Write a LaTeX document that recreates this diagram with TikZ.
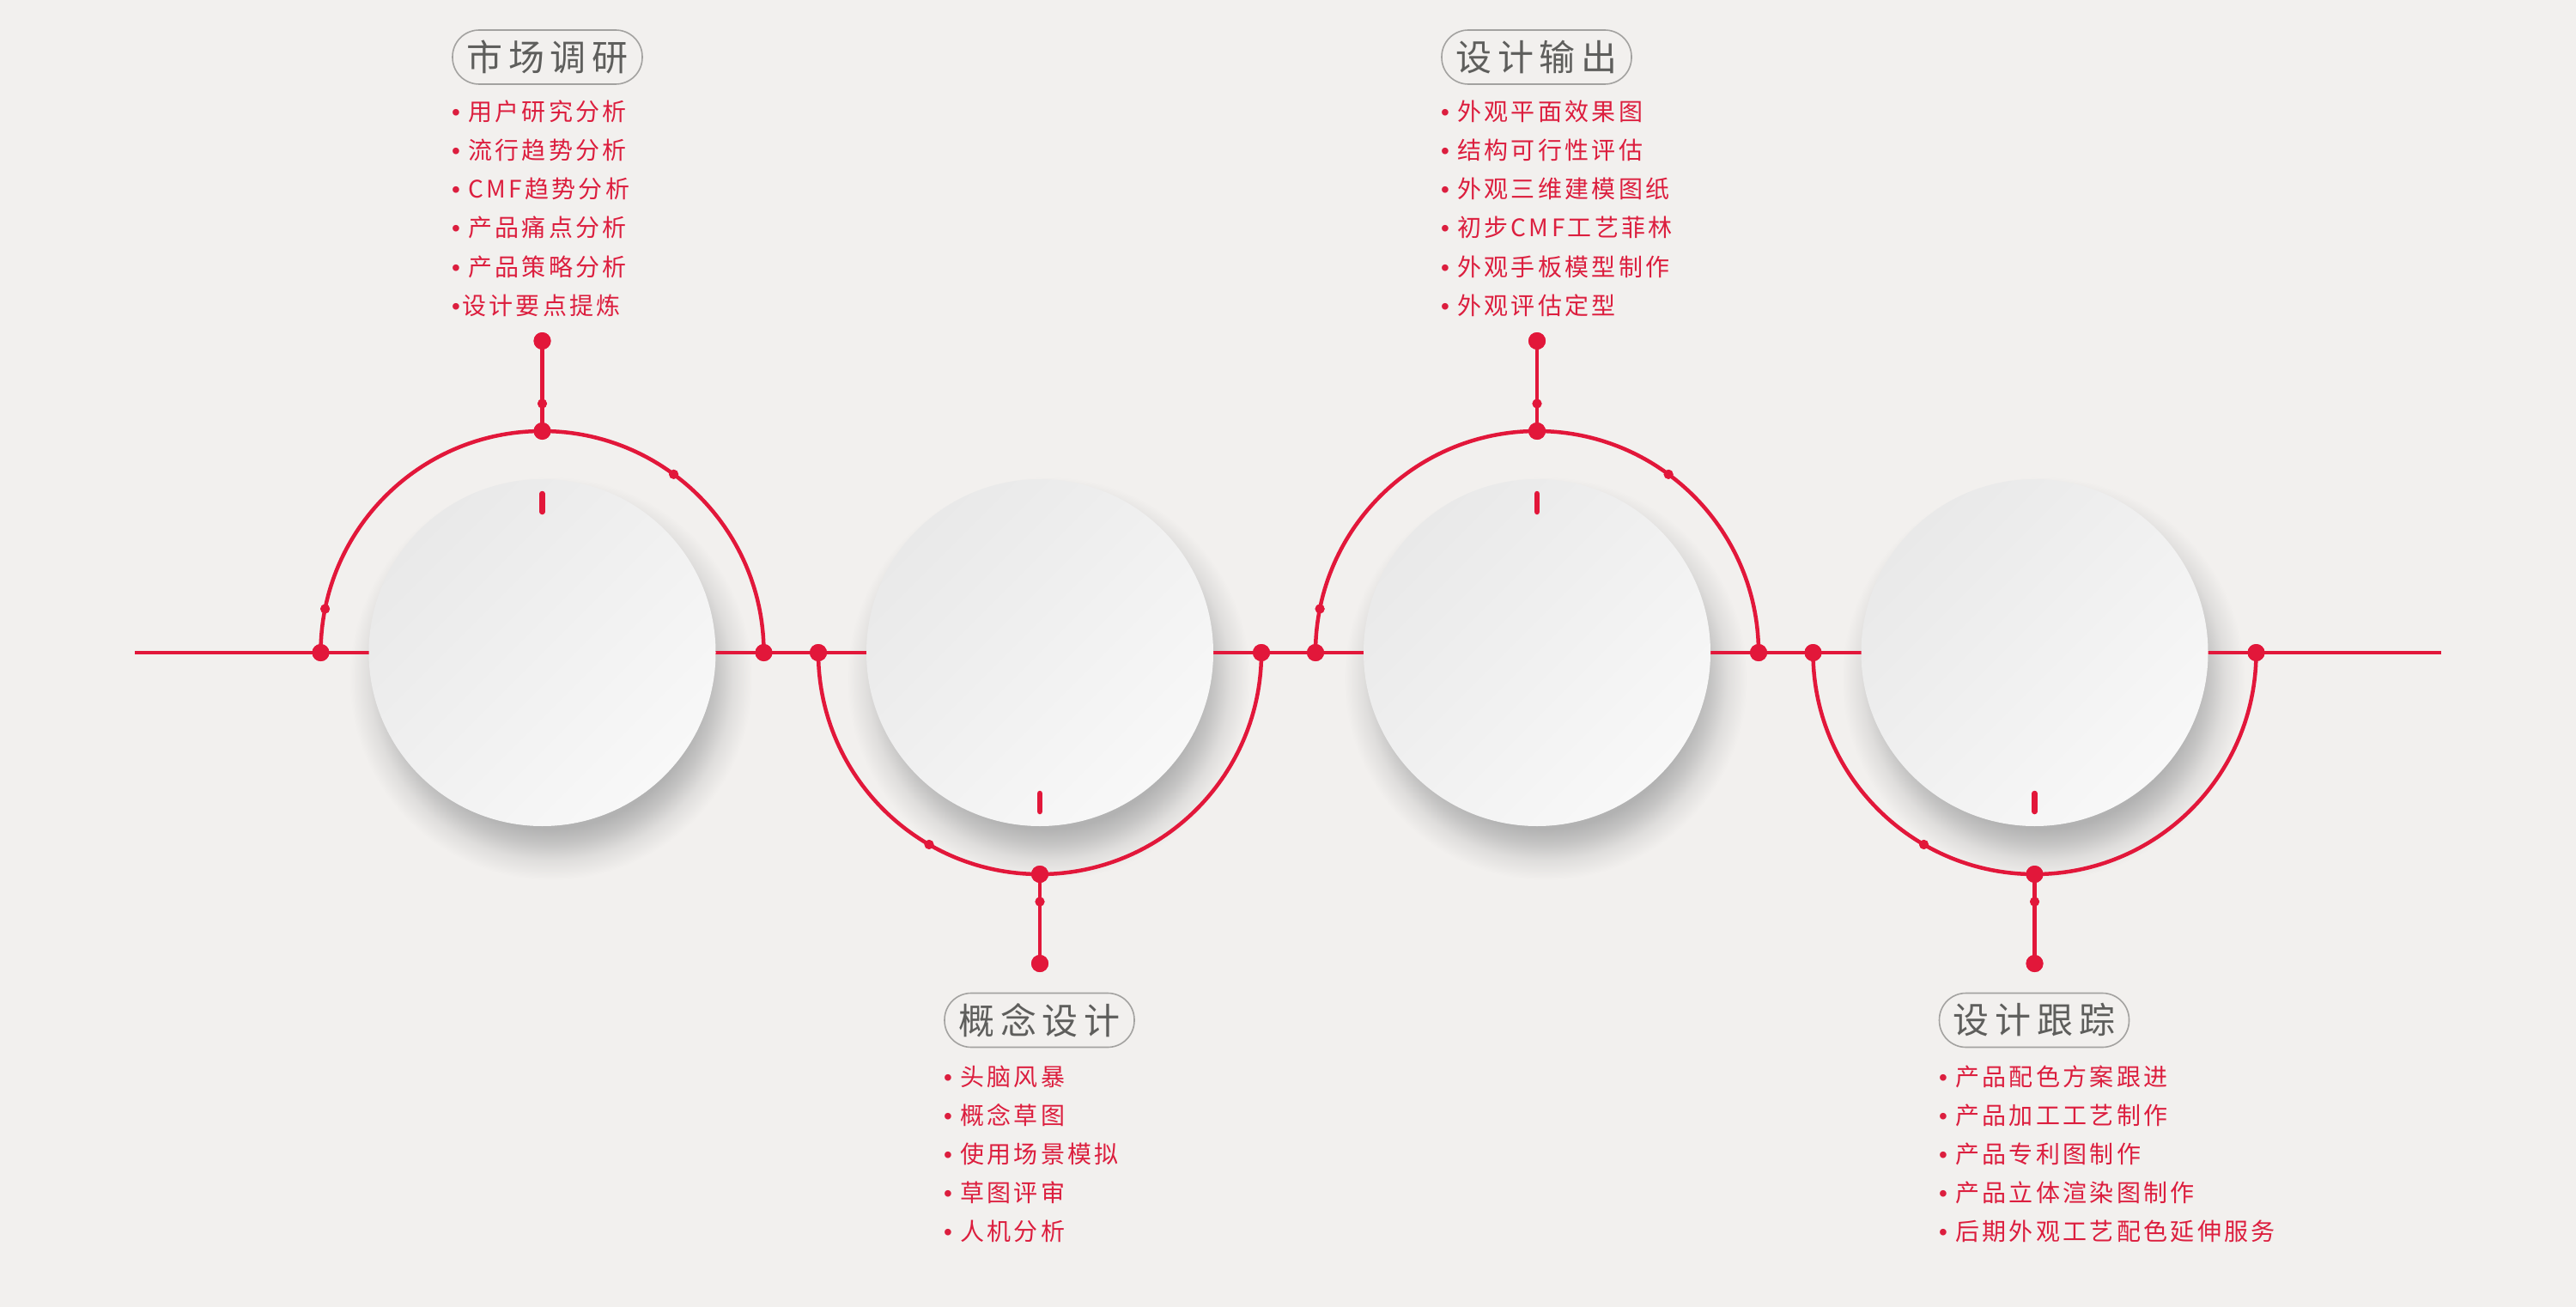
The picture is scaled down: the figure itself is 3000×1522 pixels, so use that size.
\documentclass[tikz,border=0pt]{standalone}
\usepackage{fontspec}
\setmainfont{Noto Sans CJK SC}
\newfontfamily\itemfont[LetterSpace=12]{Noto Sans CJK SC}
\newfontfamily\titlefont[LetterSpace=16]{Noto Sans CJK SC}
\newfontfamily\bulfont{Liberation Sans}
\usetikzlibrary{calc}
\definecolor{bgc}{HTML}{F2F0EE}
\definecolor{redc}{HTML}{E2173A}
\definecolor{itemc}{HTML}{DC1E3E}
\definecolor{titlec}{HTML}{5E5E5C}
\definecolor{pillc}{HTML}{A3A2A0}
\definecolor{shd}{HTML}{B2B2B2}
\definecolor{discA}{HTML}{E9E9E9}
\definecolor{discB}{HTML}{F8F8F8}
\pgfdeclareradialshading{cshadow}{\pgfpoint{0bp}{0bp}}{color(0bp)=(shd); color(18.6bp)=(shd); color(20.5bp)=(shd!70!bgc); color(22.5bp)=(shd!30!bgc); color(25bp)=(bgc); color(50bp)=(bgc)}
\newcommand\mybul{{\bulfont •}\hspace{9pt}}
\tikzset{
  redline/.style={draw=redc, line width=4.5pt},
  bigdot/.style={circle, fill=redc, inner sep=0pt, minimum size=20pt},
  smalldot/.style={circle, fill=redc, inner sep=0pt, minimum size=11pt},
  disc/.style={circle, inner sep=0pt, minimum size=404pt, shade, top color=discA, bottom color=discB, shading angle=45},
  discshadow/.style={circle, inner sep=0pt, minimum size=470pt, shade, shading=cshadow},
  ticks/.style={draw=redc, line width=6.5pt, line cap=round},
  pill/.style={draw=pillc, line width=1.6pt, rounded corners=31pt, minimum width=221pt, minimum height=63pt, inner sep=0pt, text=titlec, font=\titlefont\fontsize{42}{50}\selectfont},
  item/.style={anchor=base west, inner sep=0pt, text=itemc, font=\itemfont\fontsize{28}{34}\selectfont},
}
\begin{document}
\begin{tikzpicture}[x=1pt,y=-1pt]
\useasboundingbox (0,0) rectangle (3000,1522);
\fill[bgc] (0,0) rectangle (3000,1522);
% centres
\coordinate (c1) at (631.5,760);
\coordinate (c2) at (1211,760);
\coordinate (c3) at (1790,760);
\coordinate (c4) at (2369.5,760);
% shadows
\foreach \c in {1,2,3,4} \node[discshadow] (sh\c) at ($(c\c)+(10,30)$) {};
% main line
\coordinate (lineS) at (157,760);
\coordinate (lineE) at (2843,760);
\draw[redline] (lineS) -- (lineE);
% ---- circle 1 (up)
\node[bigdot] (l1) at (373.5,760) {};
\node[bigdot] (r1) at (889.5,760) {};
\node[bigdot] (a1) at (631.5,502) {};
\node[smalldot] (s1) at (631.5,470) {};
\node[bigdot] (e1) at (631.5,397) {};
\draw[redline] (l1.center) arc[start angle=180, end angle=0, radius=258pt];
\draw[redline] (a1.center) -- (e1.center);
\node[smalldot] (p1a) at ($(c1)+(168.6:258pt)$) {};
\node[smalldot] (p1b) at ($(c1)+(53.6:258pt)$) {};
% ---- circle 2 (down)
\node[bigdot] (l2) at (953,760) {};
\node[bigdot] (r2) at (1469,760) {};
\node[bigdot] (a2) at (1211,1018) {};
\node[smalldot] (s2) at (1211,1050) {};
\node[bigdot] (e2) at (1211,1122) {};
\draw[redline] (l2.center) arc[start angle=180, end angle=360, radius=258pt];
\draw[redline] (a2.center) -- (e2.center);
\node[smalldot] (p2a) at ($(c2)+(240:258pt)$) {};
% ---- circle 3 (up)
\node[bigdot] (l3) at (1532,760) {};
\node[bigdot] (r3) at (2048,760) {};
\node[bigdot] (a3) at (1790,502) {};
\node[smalldot] (s3) at (1790,470) {};
\node[bigdot] (e3) at (1790,397) {};
\draw[redline] (l3.center) arc[start angle=180, end angle=0, radius=258pt];
\draw[redline] (a3.center) -- (e3.center);
\node[smalldot] (p3a) at ($(c3)+(168.6:258pt)$) {};
\node[smalldot] (p3b) at ($(c3)+(53.6:258pt)$) {};
% ---- circle 4 (down)
\node[bigdot] (l4) at (2111.5,760) {};
\node[bigdot] (r4) at (2627.5,760) {};
\node[bigdot] (a4) at (2369.5,1018) {};
\node[smalldot] (s4) at (2369.5,1050) {};
\node[bigdot] (e4) at (2369.5,1122) {};
\draw[redline] (l4.center) arc[start angle=180, end angle=360, radius=258pt];
\draw[redline] (a4.center) -- (e4.center);
\node[smalldot] (p4a) at ($(c4)+(240:258pt)$) {};
% redraw dots on top of lines
\foreach \n in {l1,r1,a1,e1,l2,r2,a2,e2,l3,r3,a3,e3,l4,r4,a4,e4} \fill[redc] (\n.center) circle[radius=10pt];
\foreach \n in {s1,s2,s3,s4,p1a,p1b,p2a,p3a,p3b,p4a} \fill[redc] (\n.center) circle[radius=5.5pt];
% discs
\foreach \c in {1,2,3,4} \node[disc] (d\c) at (c\c) {};
% ticks
\draw[ticks] ($(c1)+(0,-185)$) -- ($(c1)+(0,-164)$);
\draw[ticks] ($(c2)+(0,164)$) -- ($(c2)+(0,185)$);
\draw[ticks] ($(c3)+(0,-185)$) -- ($(c3)+(0,-164)$);
\draw[ticks] ($(c4)+(0,164)$) -- ($(c4)+(0,185)$);
% ---- labels
\node[pill] (t1) at (637.5,66.5) {市场调研};
\node[item] (t1a) at (526,141) {\mybul 用户研究分析};
\node[item] (t1b) at (526,186) {\mybul 流行趋势分析};
\node[item] (t1c) at (526,231) {\mybul CMF趋势分析};
\node[item] (t1d) at (526,276) {\mybul 产品痛点分析};
\node[item] (t1e) at (526,321) {\mybul 产品策略分析};
\node[item] (t1f) at (526,366) {{\bulfont •}\hspace{2pt}设计要点提炼};

\node[pill] (t3) at (1789.5,66.5) {设计输出};
\node[item] (t3a) at (1678,141) {\mybul 外观平面效果图};
\node[item] (t3b) at (1678,186) {\mybul 结构可行性评估};
\node[item] (t3c) at (1678,231) {\mybul 外观三维建模图纸};
\node[item] (t3d) at (1678,276) {\mybul 初步CMF工艺菲林};
\node[item] (t3e) at (1678,321) {\mybul 外观手板模型制作};
\node[item] (t3f) at (1678,366) {\mybul 外观评估定型};

\node[pill] (t2) at (1210.5,1188) {概念设计};
\node[item] (t2a) at (1099,1264) {\mybul 头脑风暴};
\node[item] (t2b) at (1099,1309) {\mybul 概念草图};
\node[item] (t2c) at (1099,1354) {\mybul 使用场景模拟};
\node[item] (t2d) at (1099,1399) {\mybul 草图评审};
\node[item] (t2e) at (1099,1444) {\mybul 人机分析};

\node[pill] (t4) at (2369,1188) {设计跟踪};
\node[item] (t4a) at (2258,1264) {\mybul 产品配色方案跟进};
\node[item] (t4b) at (2258,1309) {\mybul 产品加工工艺制作};
\node[item] (t4c) at (2258,1354) {\mybul 产品专利图制作};
\node[item] (t4d) at (2258,1399) {\mybul 产品立体渲染图制作};
\node[item] (t4e) at (2258,1444) {\mybul 后期外观工艺配色延伸服务};
\end{tikzpicture}
\end{document}
